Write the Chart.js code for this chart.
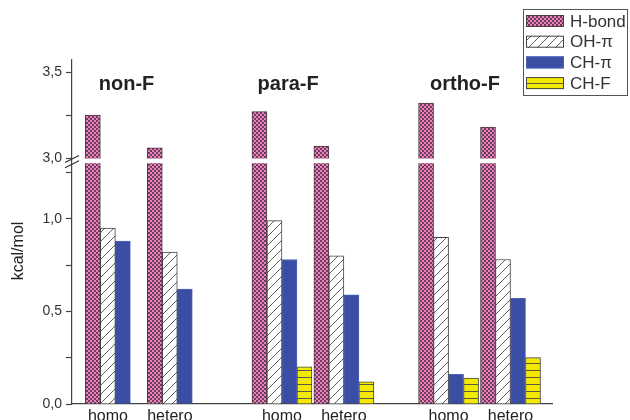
<!DOCTYPE html>
<html>
<head>
<meta charset="utf-8">
<script src="https://cdn.jsdelivr.net/npm/chart.js@4.4.1/dist/chart.umd.min.js"></script>
<style>
  html, body { margin: 0; padding: 0; background: #fff; overflow: hidden; }
  #wrap { width: 630px; height: 420px; overflow: hidden; }
</style>
</head>
<body>
<div id="wrap"><canvas id="myChart" width="630" height="430"></canvas></div>
<script>
const grupos = ['homo', 'hetero', 'homo', 'hetero', 'homo', 'hetero'];
const familias = ['non-F', 'para-F', 'ortho-F'];
const hBond = [3.25, 3.06, 3.27, 3.07, 3.32, 3.18];
const ohPi = [0.95, 0.82, 0.99, 0.80, 0.90, 0.78];
const chPi = [0.88, 0.62, 0.78, 0.59, 0.16, 0.57];
const chF = [null, null, 0.20, 0.12, 0.14, 0.25];
const ticksY = [0, 0.25, 0.5, 0.75, 1.0, 1.25, 3.0, 3.25, 3.5];
const etiquetasY = ['0,0', '', '0,5', '', '1,0', '', '3,0', '', '3,5'];

const corteBajo = 1.3;
const corteAlto = 3.0;
const maxY = 3.57;
const fracBajo = 0.70;
const fracHueco = 0.015;

const pasoFamilia = 2.69;
const posX = grupos.map((g, i) => Math.floor(i / 2) * pasoFamilia + (i % 2));

Chart.defaults.font.family = "'Liberation Sans', Arial, sans-serif";

class EscalaCortada extends Chart.LinearScale {
    static id = 'cortada';
    static defaults = Chart.LinearScale.defaults;
    determineDataLimits() {
        this.min = 0;
        this.max = maxY;
    }
    buildTicks() {
        return ticksY.map(v => ({ value: v }));
    }
    aFraccion(v) {
        if (v <= corteBajo) return v / corteBajo * fracBajo;
        if (v >= corteAlto) return fracBajo + fracHueco + (v - corteAlto) / (maxY - corteAlto) * (1 - fracBajo - fracHueco);
        return fracBajo + (v - corteBajo) / (corteAlto - corteBajo) * fracHueco;
    }
    getPixelForValue(v) {
        if (v === null || isNaN(v)) return NaN;
        return this.getPixelForDecimal(this.aFraccion(v));
    }
    getValueForPixel(p) {
        const f = this.getDecimalForPixel(p);
        if (f <= fracBajo) return f / fracBajo * corteBajo;
        if (f >= fracBajo + fracHueco) return corteAlto + (f - fracBajo - fracHueco) / (1 - fracBajo - fracHueco) * (maxY - corteAlto);
        return corteBajo + (f - fracBajo) / fracHueco * (corteAlto - corteBajo);
    }
}
Chart.register(EscalaCortada);

const canvas = document.getElementById('myChart');
const ctx = canvas.getContext('2d');

const crearPatron = (w, h, dibujar) => {
    const c = document.createElement('canvas');
    c.width = w;
    c.height = h;
    dibujar(c.getContext('2d'));
    return ctx.createPattern(c, 'repeat');
};

const patronHBond = crearPatron(4, 4, g => {
    g.fillStyle = '#f07fbf';
    g.fillRect(0, 0, 4, 4);
    g.fillStyle = '#6a3f5a';
    g.fillRect(0, 0, 2, 2);
    g.fillRect(2, 2, 2, 2);
});

const patronOH = crearPatron(9, 9, g => {
    g.fillStyle = '#fff';
    g.fillRect(0, 0, 9, 9);
    g.strokeStyle = '#333';
    g.lineWidth = 0.8;
    g.beginPath();
    g.moveTo(-1, 10); g.lineTo(10, -1);
    g.moveTo(-1, 1); g.lineTo(1, -1);
    g.moveTo(8, 10); g.lineTo(10, 8);
    g.stroke();
});

const patronCHF = crearPatron(4, 7, g => {
    g.fillStyle = '#f3ea00';
    g.fillRect(0, 0, 4, 7);
    g.fillStyle = '#5a5a40';
    g.fillRect(0, 6, 4, 1);
});

const series = [
    { label: 'H-bond', valores: hBond, fondo: patronHBond, borde: '#4a3a44' },
    { label: 'OH-\u03c0', valores: ohPi, fondo: patronOH, borde: '#444' },
    { label: 'CH-\u03c0', valores: chPi, fondo: '#3a4fa3', borde: '#4d63b8' },
    { label: 'CH-F', valores: chF, fondo: patronCHF, borde: '#444' }
];

const cortePlugin = {
    id: 'corte',
    afterDatasetsDraw(chart) {
        const { ctx, chartArea, scales } = chart;
        const arriba = scales.y.getPixelForValue(corteAlto);
        const abajo = scales.y.getPixelForValue(corteBajo);
        ctx.save();
        ctx.fillStyle = '#fff';
        ctx.fillRect(chartArea.left + 1, arriba + 0.5, chartArea.right - chartArea.left, abajo - arriba - 0.5);
        ctx.restore();
    },
    afterDraw(chart) {
        const { ctx, chartArea, scales } = chart;
        const x = chartArea.left;
        const arriba = scales.y.getPixelForValue(corteAlto);
        const abajo = scales.y.getPixelForValue(corteBajo);
        ctx.save();
        ctx.strokeStyle = '#333';
        ctx.lineWidth = 1.2;
        ctx.beginPath();
        [arriba + 1, abajo + 1].forEach(y => {
            ctx.moveTo(x - 7, y + 3.5);
            ctx.lineTo(x + 7, y - 3.5);
        });
        ctx.stroke();

        ctx.fillStyle = '#222';
        ctx.font = "bold 20px 'Liberation Sans', Arial, sans-serif";
        ctx.textAlign = 'center';
        ctx.textBaseline = 'middle';
        const desplaza = [0.18, 0.10, 0.265];
        familias.forEach((f, i) => {
            ctx.fillText(f, scales.x.getPixelForValue(i * pasoFamilia + desplaza[i]), scales.y.getPixelForValue(3.43));
        });

        ctx.font = "16px 'Liberation Sans', Arial, sans-serif";
        ctx.save();
        ctx.translate(19, 251);
        ctx.rotate(-Math.PI / 2);
        ctx.fillText('kcal/mol', 0, 0);
        ctx.restore();

        ctx.strokeStyle = '#555';
        ctx.lineWidth = 1;
        ctx.strokeRect(523.5, 9.5, 104, 86);
        ctx.textAlign = 'left';
        ctx.font = "17px 'Liberation Sans', Arial, sans-serif";
        chart.data.datasets.forEach((ds, i) => {
            const yc = 21 + i * 20.7;
            ctx.fillStyle = ds.backgroundColor;
            ctx.fillRect(526, yc - 6, 38, 12);
            ctx.strokeStyle = ds.borderColor;
            ctx.strokeRect(526.5, yc - 5.5, 37, 11);
            ctx.fillStyle = '#333';
            ctx.fillText(ds.label, 570, yc + 1);
        });
        ctx.restore();
    }
};

const myChart = new Chart(ctx, {
    type: 'bar',
    data: {
        datasets: series.map(s => ({
            label: s.label,
            data: s.valores.map((y, i) => ({ x: posX[i], y: y })),
            backgroundColor: s.fondo,
            borderColor: s.borde,
            borderWidth: 1,
            barThickness: 15
        }))
    },
    options: {
        responsive: false,
        animation: false,
        devicePixelRatio: 1,
        layout: { padding: { top: 60, right: 78, left: 0, bottom: 0 } },
        plugins: {
            legend: { display: false },
            tooltip: { enabled: false }
        },
        scales: {
            x: {
                type: 'linear',
                min: -0.7,
                max: 7.05,
                offset: false,
                grid: { display: false, offset: false },
                border: { display: true, color: '#444', width: 1.2 },
                afterBuildTicks: s => {
                    s.ticks = posX.map((v, i) => ({ value: chF[i] === null ? v - 0.12 : v }));
                },
                afterFit: s => { s.height = 26; },
                ticks: {
                    autoSkip: false,
                    maxRotation: 0,
                    padding: -5,
                    color: '#222',
                    font: { size: 16 },
                    callback: (v, i) => grupos[i]
                }
            },
            y: {
                type: 'cortada',
                position: 'left',
                grid: { drawOnChartArea: false, tickLength: 6, color: '#444', tickWidth: 1.2 },
                border: { display: true, color: '#444', width: 1.2 },
                afterFit: s => { s.width = 72; },
                ticks: {
                    autoSkip: false,
                    padding: 4,
                    color: '#333',
                    font: { size: 14 },
                    callback: (v, i) => etiquetasY[i]
                }
            }
        }
    },
    plugins: [cortePlugin]
});
</script>
</body>
</html>
